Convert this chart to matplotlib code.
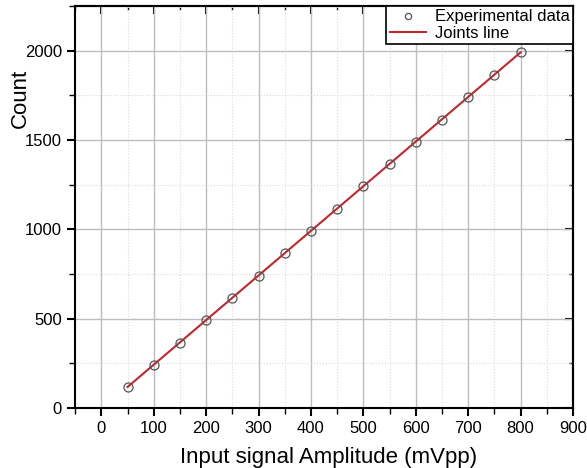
import numpy as np
import matplotlib.pyplot as plt
from matplotlib.ticker import MultipleLocator
from matplotlib.lines import Line2D

plt.rcParams['font.family'] = ['Liberation Sans', 'DejaVu Sans']

amplitude = [50, 100, 150, 200, 250, 300, 350, 400, 450, 500, 550, 600, 650, 700, 750, 800]
count = [120, 243, 367, 492, 617, 742, 866, 992, 1117, 1242, 1367, 1492, 1615, 1740, 1865, 1993]

slope, intercept = np.polyfit(amplitude, count, 1)
fit_x = np.array([amplitude[0], amplitude[-1]])
fit_y = slope * fit_x + intercept

fig = plt.figure(figsize=(5.87, 4.68), dpi=100)
ax = fig.add_axes([0.128, 0.128, 0.848, 0.859])

ax.plot(fit_x, fit_y, color='#c0282d', lw=1.5, zorder=3)
ax.plot(amplitude, count, 'o', mfc='none', mec='#555555', ms=6.5, mew=0.9, zorder=4)

ax.set_xlim(-50, 900)
ax.set_ylim(0, 2250)
ax.xaxis.set_major_locator(MultipleLocator(100))
ax.xaxis.set_minor_locator(MultipleLocator(50))
ax.yaxis.set_major_locator(MultipleLocator(500))
ax.yaxis.set_minor_locator(MultipleLocator(250))

ax.grid(which='major', color='#bdbdbd', lw=1.0, zorder=0)
ax.grid(which='minor', color='#dadada', lw=0.8, ls=':', zorder=0)
ax.set_axisbelow(True)

ax.tick_params(which='major', direction='out', length=6, width=1.5, labelsize=12)
ax.tick_params(which='minor', direction='out', length=4, width=1.0)
# Origin-style mirrored ticks pointing inward on top and right
secx = ax.secondary_xaxis('top')
secx.xaxis.set_major_locator(MultipleLocator(100))
secx.xaxis.set_minor_locator(MultipleLocator(50))
secx.tick_params(which='major', direction='in', length=6, width=1.5, labeltop=False)
secx.tick_params(which='minor', direction='in', length=3, width=1.0)
secx.spines['top'].set_linewidth(1.5)
secy = ax.secondary_yaxis('right')
secy.yaxis.set_major_locator(MultipleLocator(500))
secy.yaxis.set_minor_locator(MultipleLocator(250))
secy.tick_params(which='major', direction='in', length=6, width=1.5, labelright=False)
secy.tick_params(which='minor', direction='in', length=3, width=1.0)
secy.spines['right'].set_linewidth(1.5)
for sp in ax.spines.values():
    sp.set_linewidth(1.5)

ax.set_xlabel('Input signal Amplitude (mVpp)', fontsize=16, va='center')
ax.xaxis.set_label_coords(0.51, -0.122)
ax.set_ylabel('Count', fontsize=16, va='center')
ax.yaxis.set_label_coords(-0.11, 0.77)

handles = [
    Line2D([], [], ls='none', marker='o', mfc='none', mec='#555555', ms=4.5, mew=0.9),
    Line2D([], [], color='#c0282d', lw=1.5),
]
leg = ax.legend(handles, ['Experimental data', 'Joints line'], loc='upper right',
                fontsize=12, fancybox=False, edgecolor='black', framealpha=1,
                borderaxespad=0.0, handlelength=2.2, borderpad=0.2,
                labelspacing=0.1, handletextpad=0.5)
leg.get_frame().set_linewidth(1.2)

fig.savefig('out.png', dpi=100)
